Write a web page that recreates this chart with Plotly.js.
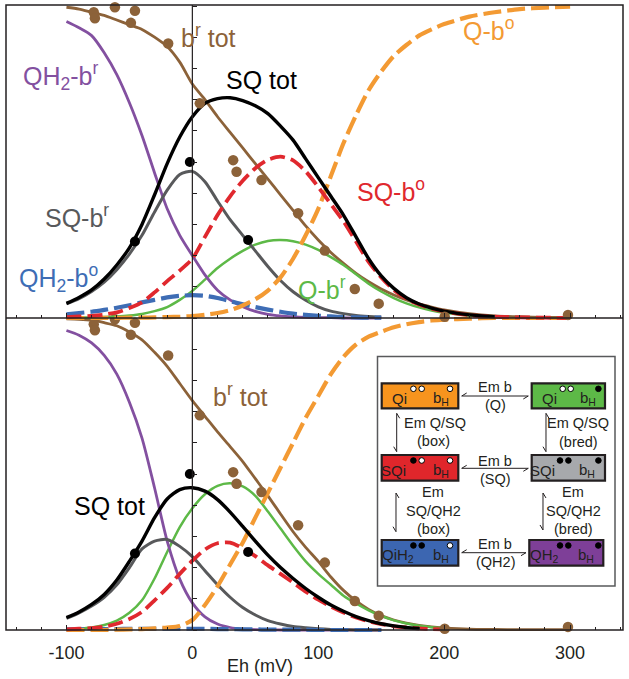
<!DOCTYPE html>
<html><head><meta charset="utf-8">
<script src="https://cdn.plot.ly/plotly-3.0.1.min.js"></script>
<style>html,body{margin:0;padding:0;background:#fff}#chart{width:629px;height:679px}</style>
</head><body><div id="chart"></div>
<script>
// ---------------- data ----------------
const eh = [-100,-90,-80,-70,-60,-50,-40,-30,-20,-10,0,10,20,30,40,50,60,70,80,90,100,110,120,130,140,150,160,170,180,190,200,220,240,260,280,300];

// top panel
const brownTop  = [0.996,0.99,0.98,0.97,0.955,0.94,0.925,0.90,0.87,0.82,0.75,0.70,0.645,0.595,0.545,0.495,0.445,0.395,0.345,0.295,0.25,0.21,0.175,0.143,0.116,0.093,0.074,0.058,0.045,0.035,0.026,0.014,0.007,0.004,0.002,0.001];
const purpleTop = [0.95,0.93,0.905,0.85,0.78,0.69,0.585,0.465,0.35,0.265,0.20,0.138,0.089,0.058,0.036,0.021,0.012,0.007,0.004,0.002,0.001,0.001,0,0,0,0,null,null,null,null,null,null,null,null,null,null];
const grayTop   = [0.045,0.062,0.085,0.115,0.155,0.205,0.265,0.34,0.41,0.46,0.47,0.437,0.375,0.315,0.265,0.215,0.165,0.12,0.084,0.057,0.036,0.022,0.014,0.008,0.005,0.003,null,null,null,null,null,null,null,null,null,null];
const blackTop  = [0.047,0.066,0.09,0.125,0.17,0.225,0.30,0.395,0.495,0.58,0.645,0.688,0.703,0.706,0.697,0.68,0.655,0.615,0.57,0.51,0.45,0.39,0.33,0.26,0.19,0.135,0.095,0.065,0.045,0.032,0.022,0.01,0.004,null,null,null];
const redTop    = [0.003,0.005,0.007,0.011,0.018,0.032,0.05,0.082,0.118,0.152,0.19,0.26,0.33,0.39,0.44,0.48,0.507,0.517,0.505,0.47,0.42,0.365,0.31,0.245,0.18,0.13,0.09,0.062,0.043,0.03,0.021,0.009,0.004,0.002,0.001,0];
const greenTop  = [0.001,0.001,0.002,0.003,0.005,0.008,0.013,0.022,0.035,0.058,0.087,0.123,0.16,0.19,0.215,0.235,0.247,0.25,0.246,0.235,0.218,0.195,0.17,0.14,0.11,0.085,0.064,0.047,0.034,0.024,0.017,0.008,0.004,null,null,null];
const blueTop   = [0.012,0.016,0.02,0.026,0.033,0.041,0.05,0.058,0.066,0.071,0.073,0.071,0.064,0.054,0.044,0.035,0.027,0.02,0.014,0.01,0.007,0.005,0.003,0.002,0.001,0.001,null,null,null,null,null,null,null,null,null,null];
const orangeTop = [0,0,0,0.0005,0.0005,0.001,0.001,0.002,0.003,0.004,0.006,0.01,0.016,0.025,0.04,0.06,0.088,0.13,0.19,0.265,0.35,0.455,0.56,0.65,0.73,0.79,0.84,0.875,0.905,0.925,0.942,0.966,0.98,0.99,0.995,0.998];

// bottom panel
const brownBot  = [0.997,0.996,0.993,0.985,0.975,0.955,0.93,0.89,0.845,0.79,0.735,0.685,0.635,0.588,0.54,0.485,0.43,0.372,0.315,0.265,0.22,0.17,0.127,0.093,0.066,0.046,0.032,0.022,0.015,0.01,0.007,0.003,0.002,0.001,0.001,0.001];
const purpleBot = [0.96,0.945,0.92,0.88,0.82,0.73,0.615,0.455,0.285,0.163,0.087,0.042,0.019,0.008,0.003,0.001,0.0005,0,0,0,0,0,0,0,0,0,null,null,null,null,null,null,null,null,null,null];
const grayBot   = [0.037,0.055,0.077,0.105,0.145,0.2,0.26,0.285,0.29,0.268,0.235,0.19,0.145,0.105,0.072,0.048,0.03,0.019,0.011,0.007,0.004,0.002,0.001,0,0,0,null,null,null,null,null,null,null,null,null,null];
const blackBot  = [0.04,0.058,0.082,0.114,0.16,0.22,0.285,0.36,0.42,0.45,0.456,0.445,0.418,0.378,0.332,0.285,0.24,0.2,0.165,0.133,0.105,0.08,0.06,0.043,0.03,0.02,0.013,0.008,0.005,null,null,null,null,null,null,null];
const redBot    = [0.002,0.004,0.006,0.011,0.02,0.035,0.058,0.095,0.135,0.18,0.222,0.258,0.278,0.28,0.262,0.237,0.207,0.18,0.152,0.123,0.097,0.075,0.056,0.04,0.028,0.019,0.012,0.008,0.005,0.003,0.002,null,null,null,null,null];
const greenBot  = [0.002,0.004,0.008,0.016,0.03,0.055,0.095,0.165,0.25,0.33,0.39,0.435,0.462,0.47,0.46,0.43,0.38,0.325,0.27,0.22,0.18,0.145,0.11,0.085,0.063,0.045,0.031,0.021,0.014,0.009,0.006,null,null,null,null,null];
const blueBot   = [0.002,0.002,0.003,0.003,0.003,0.004,0.004,0.004,0.004,0.004,0.004,0.004,0.003,0.003,0.002,0.002,0.001,0.001,0.001,0.001,0,0,0,0,0,0,null,null,null,null,null,null,null,null,null,null];
const orangeBot = [0,0,0,0,0.001,0.002,0.003,0.005,0.008,0.013,0.032,0.08,0.14,0.21,0.28,0.36,0.44,0.52,0.6,0.68,0.75,0.82,0.875,0.915,0.94,0.956,0.97,0.98,0.987,0.992,0.995,0.998,1,1,1,1];

// measured points (same in both panels)
const dotEh    = [-78.3,-77.4,-61.5,-45.6,-48.8,-19.2,5.9,32.4,35.1,54.9,84.0,105.2,129,148,200.4,298.3];
const dotBrown = [0.98,0.961,0.996,0.985,0.946,0.880,0.688,0.506,0.469,0.442,0.336,0.216,0.093,0.046,0.004,0.01];
const sqDotEh  = [-45.6,-2,44.3];
const sqDotVal = [0.245,0.5,0.25];

const xTickVals = [-100,0,100,200,300];
const xTickText = ['-100','0','100','200','300'];

// ---------------- styling / layout ----------------
const FONT = 'Liberation Sans, Arial, Helvetica, sans-serif';
const TXT = '#231f20';
const C = {brown:'#8C6239', purple:'#8350A0', gray:'#58595B', black:'#000000',
           red:'#E0282E', green:'#5DB947', blue:'#3E6DB5', orange:'#F39A33'};

// pixel frame: plot frame 6..623 x 5..630, divider at 318; 312 px per unit
const W=629, H=679, ML=6, MR=6, MT=2, MB=45;
const PW=W-ML-MR, PH=H-MT-MB;          // paper covers y 2..634 (a few px of clip slack)
const px = x => (x-ML)/PW;
const py = y => (H-MB-y)/PH;
const slack = 4/312;

function line(y, xa, ya, color, width, dash){
  return {type:'scatter', mode:'lines', x:eh, y:y, xaxis:xa, yaxis:ya,
    line:{color:color, width:width, dash:dash||'solid', shape:'spline', smoothing:0.7},
    hoverinfo:'skip', showlegend:false};
}
function dots(x, y, xa, ya, color, size){
  return {type:'scatter', mode:'markers', x:x, y:y, xaxis:xa, yaxis:ya, cliponaxis:false,
    marker:{color:color, size:size, line:{width:0}}, hoverinfo:'skip', showlegend:false};
}
const dashO='18px,6px', dashR='15px,6px', dashB='18px,6px';

const traces = [];
function panel(xa, ya, d){
  traces.push(line(d.brown, xa, ya, C.brown, 2.8));
  traces.push(line(d.green, xa, ya, C.green, 2.5));
  traces.push(line(d.purple, xa, ya, C.purple, 2.8));
  traces.push(line(d.gray, xa, ya, C.gray, 3));
  traces.push(line(d.blue, xa, ya, C.blue, 4.2, dashB));
  traces.push(line(d.orange, xa, ya, C.orange, 4.2, dashO));
  traces.push(line(d.red, xa, ya, C.red, 3.8, dashR));
  traces.push(line(d.black, xa, ya, C.black, 3.4));
  traces.push(dots(dotEh, dotBrown, xa, ya, C.brown, 10.5));
  traces.push(dots(sqDotEh, sqDotVal, xa, ya, '#000', 10));
}
panel('x2','y2',{brown:brownTop,green:greenTop,purple:purpleTop,gray:grayTop,blue:blueTop,orange:orangeTop,red:redTop,black:blackTop});
panel('x','y',{brown:brownBot,green:greenBot,purple:purpleBot,gray:grayBot,blue:blueBot,orange:orangeBot,red:redBot,black:blackBot});

const xr = [-148, 342];
const ypos = (0 - xr[0])/(xr[1]-xr[0]);
const xBase = {range:xr, showgrid:false, zeroline:false, showline:false, anchor:'free',
  tickmode:'array', tickvals:xTickVals, ticktext:xTickText, ticks:'inside', ticklen:5, tickcolor:TXT, tickwidth:1,
  minor:{tickmode:'linear', tick0:0, dtick:20, ticks:'inside', ticklen:3, tickcolor:TXT, showgrid:false}};
const yBase = {showgrid:false, zeroline:false, showline:false,
  anchor:'free', position:ypos, ticks:'inside', ticklen:4, tickcolor:TXT, tickwidth:1,
  tickmode:'linear', tick0:0, dtick:0.1, showticklabels:false, range:[-slack, 1+slack]};

const ann = [];
function lab(text, cx, cy, color, size){
  ann.push({xref:'paper', yref:'paper', x:px(cx), y:py(cy), text:text, showarrow:false,
    xanchor:'center', yanchor:'middle', font:{family:FONT, size:size||25, color:color}});
}
// curve labels - top
lab('b<sup>r</sup> tot', 208, 36, C.brown);
lab('SQ tot', 261, 80, C.black);
lab('QH<sub>2</sub>-b<sup>r</sup>', 60, 76, C.purple);
lab('SQ-b<sup>r</sup>', 77, 216, C.gray);
lab('QH<sub>2</sub>-b<sup>o</sup>', 58, 278, C.blue);
lab('Q-b<sup>r</sup>', 322, 288, C.green);
lab('SQ-b<sup>o</sup>', 391, 190, C.red);
lab('Q-b<sup>o</sup>', 488, 29, C.orange);
// curve labels - bottom
lab('b<sup>r</sup> tot', 240, 395, C.brown);
lab('SQ tot', 109, 506, C.black);
// axis title
lab('Eh (mV)', 260, 666, TXT, 18);

// ---------------- frame + inset scheme ----------------
const shapes = [];
shapes.push({type:'rect', xref:'paper', yref:'paper', x0:0, x1:1, y0:py(630), y1:py(5), line:{color:TXT, width:1.5}, layer:'above'});
shapes.push({type:'line', xref:'paper', yref:'paper', x0:0, x1:1, y0:py(318), y1:py(318), line:{color:TXT, width:1.5}, layer:'above'});
shapes.push({type:'line', xref:'paper', yref:'paper', x0:ypos, x1:ypos, y0:py(630), y1:py(5), line:{color:TXT, width:1.2}, layer:'above'});
shapes.push({type:'rect', xref:'paper', yref:'paper', x0:px(377.5), x1:px(615), y0:py(586), y1:py(356.5),
  fillcolor:'#ffffff', line:{color:'#58595B', width:1.5}, layer:'above'});

const boxes = [
  {L:381.7,T:383.3,R:458.3,B:408.3,fill:'#F7941E',txt:'Qi',tx:17.5,c:[[31.7,0],[40,0],[68.3,0]],bh:59},
  {L:531.7,T:383.3,R:605,B:408.3,fill:'#5DB947',txt:'Qi',tx:17.5,c:[[31,0],[39,0],[66.7,1]],bh:56},
  {L:381.7,T:455,R:458.3,B:480.7,fill:'#E0262B',txt:'SQi',tx:11.7,c:[[31.7,1],[40,0],[68.3,0]],bh:59},
  {L:531.7,T:455,R:605,B:480.7,fill:'#A7A9AC',txt:'SQi',tx:10.8,c:[[28.3,1],[36.7,1],[66.7,1]],bh:55},
  {L:381.7,T:540,R:458.3,B:565.7,fill:'#3C66B1',txt:'QiH<sub>2</sub>',tx:16,c:[[31.7,1],[40,1],[68.3,0]],bh:59},
  {L:529.3,T:540,R:603.3,B:565.7,fill:'#7E3F98',txt:'QH<sub>2</sub>',tx:14.7,c:[[30.7,1],[39,1],[69,1]],bh:57}
];
boxes.forEach(b=>{
  shapes.push({type:'rect', xref:'paper', yref:'paper', x0:px(b.L), x1:px(b.R), y0:py(b.B), y1:py(b.T),
    fillcolor:b.fill, line:{color:'#231f20', width:2.2}, layer:'above'});
  b.c.forEach(cc=>{
    const cx=b.L+cc[0], cy=b.T+5.5, r=2.8;
    shapes.push({type:'circle', xref:'paper', yref:'paper', x0:px(cx-r), x1:px(cx+r), y0:py(cy+r), y1:py(cy-r),
      fillcolor: cc[1]?'#000':'#fff', line:{color:'#000', width:1}, layer:'above'});
  });
  lab(b.txt, b.L+b.tx, b.T+15.5, TXT, 15);
  lab('b<sub>H</sub>', b.L+b.bh, b.T+15.5, TXT, 15);
});

function P(x,y){return px(x).toFixed(5)+','+py(y).toFixed(5);}
function hArrow(x1,x2,y){
  shapes.push({type:'path', xref:'paper', yref:'paper', layer:'above', line:{color:TXT,width:1},
    path:'M'+P(x1+5,y-3)+' L'+P(x1,y)+' L'+P(x2,y)+' L'+P(x2-5,y+3)});
}
function vArrow(x,y1,y2){
  shapes.push({type:'path', xref:'paper', yref:'paper', layer:'above', line:{color:TXT,width:1},
    path:'M'+P(x+3,y1+5)+' L'+P(x,y1)+' L'+P(x,y2)+' L'+P(x-3,y2-5)});
}
hArrow(461.7,528.3,396);
hArrow(461.7,528.3,468.3);
hArrow(461.7,526,552.7);
vArrow(396.7,413.3,451.7);
vArrow(546,413.3,451.7);
vArrow(396,493,531.7);
vArrow(543,493,530);

const s=14.5;
lab('Em b',495,387.3,TXT,s); lab('(Q)',495,405,TXT,s);
lab('Em Q/SQ',435,423.3,TXT,s); lab('(box)',433.3,441,TXT,s);
lab('Em Q/SQ',578.3,423.3,TXT,s); lab('(bred)',578.3,442.3,TXT,s);
lab('Em b',495,461,TXT,s); lab('(SQ)',495,479,TXT,s);
lab('Em',433.3,492.3,TXT,s); lab('SQ/QH2',433.3,511,TXT,s); lab('(box)',433.3,529,TXT,s);
lab('Em',573.3,492.3,TXT,s); lab('SQ/QH2',573.3,511,TXT,s); lab('(bred)',573.3,529,TXT,s);
lab('Em b',495,544.3,TXT,s); lab('(QH2)',495,562.3,TXT,s);

const layout = {
  width:W, height:H, margin:{l:ML, r:MR, t:MT, b:MB, pad:0},
  paper_bgcolor:'#fff', plot_bgcolor:'rgba(0,0,0,0)', showlegend:false,
  font:{family:FONT, color:TXT, size:14},
  xaxis: Object.assign({}, xBase, {position:py(630), domain:[0,1], showticklabels:true,
    tickfont:{family:FONT, size:18, color:TXT}, ticklabelstandoff:10}),
  xaxis2: Object.assign({}, xBase, {position:py(318), domain:[0,1], matches:'x', showticklabels:false}),
  yaxis: Object.assign({}, yBase, {domain:[0, py(314)]}),
  yaxis2: Object.assign({}, yBase, {domain:[py(322), 1]}),
  shapes: shapes, annotations: ann
};
Plotly.newPlot('chart', traces, layout, {staticPlot:true, displayModeBar:false});
</script></body></html>
